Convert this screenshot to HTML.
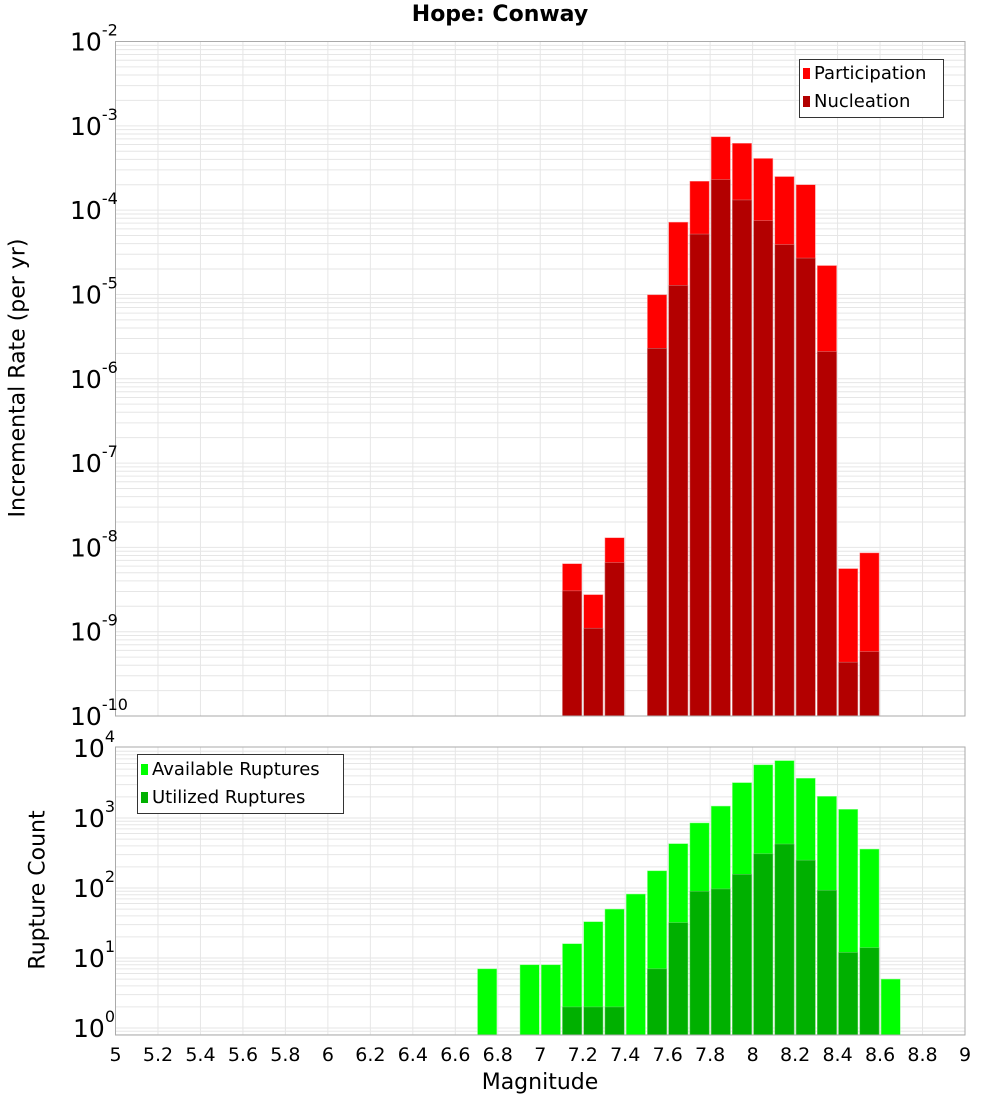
<!DOCTYPE html>
<html><head><meta charset="utf-8"><style>
body{margin:0;background:#fff;}
svg{display:block;font-family:"DejaVu Sans","Liberation Sans",sans-serif;}
</style></head><body>
<svg id="c" width="1000" height="1100" xmlns="http://www.w3.org/2000/svg"></svg>
<script>
const binCenters=[6.75,6.95,7.05,7.15,7.25,7.35,7.45,7.55,7.65,7.75,7.85,7.95,8.05,8.15,8.25,8.35,8.45,8.55,8.65];
const availableCounts=[7,8,8,16,33,50,82,176,430,850,1480,3200,5750,6600,3700,2040,1330,360,5];
const utilizedCounts=[0,0,0,2,2,2,0,7,32,90,97,157,308,425,250,93,12,14,0];
const rateMags=[7.15,7.25,7.35,7.55,7.65,7.75,7.85,7.95,8.05,8.15,8.25,8.35,8.45,8.55];
const participation=[6.4e-9,2.75e-9,1.3e-8,9.9e-6,7.2e-5,2.2e-4,7.4e-4,6.2e-4,4.1e-4,2.5e-4,2.0e-4,2.2e-5,5.6e-9,8.6e-9];
const nucleation=[3.05e-9,1.1e-9,6.6e-9,2.3e-6,1.28e-5,5.2e-5,2.3e-4,1.32e-4,7.5e-5,3.9e-5,2.7e-5,2.1e-6,4.35e-10,5.8e-10];
const xTicks=[5,5.2,5.4,5.6,5.8,6,6.2,6.4,6.6,6.8,7,7.2,7.4,7.6,7.8,8,8.2,8.4,8.6,8.8,9];

const NS="http://www.w3.org/2000/svg";
const svg=document.getElementById('c');
function el(t,a,p){const e=document.createElementNS(NS,t);for(const k in a)e.setAttribute(k,a[k]);(p||svg).appendChild(e);return e;}
const L=115.5,R=965;
const xs=m=>L+(m-5)*(R-L)/4;
const topP={t:41.5,b:716,lo:-10,hi:-2};
const botP={t:747,b:1035,y0:1028,y4:748};
const yTop=v=>topP.b-(Math.log10(v)-topP.lo)*(topP.b-topP.t)/(topP.hi-topP.lo);
const yBot=v=>botP.y0-Math.log10(v)*(botP.y0-botP.y4)/4;

function grid(top,bot,yf,dmin,dmax){
  const g=el('g',{});
  
  
  for(let d=dmin;d<=dmax;d++)for(let k=1;k<10;k++){const v=k*Math.pow(10,d);const y=yf(v);if(y<top-0.5||y>bot+0.5)continue;
    el('line',{x1:L,x2:R,y1:y,y2:y,stroke:'#e6e6e6','stroke-width':1},g);}
  xTicks.forEach(m=>{const x=xs(m);el('line',{x1:x,x2:x,y1:top,y2:bot,stroke:'#e6e6e6','stroke-width':1},g);});
}
grid(topP.t,topP.b,yTop,-10,-3);
grid(botP.t,botP.b,yBot,-1,3);

function bar(cx,v,yf,base,fill,edge,name){
  const x0=xs(cx-0.05)+1,x1=xs(cx+0.05)-1;const y=yf(v);
  const r=el('rect',{x:x0,y:y,width:x1-x0,height:base-y,fill:fill,stroke:edge,'stroke-width':0.5});
  
  
}
rateMags.forEach((m,i)=>{bar(m,participation[i],yTop,topP.b,'#ff0000','#ff9090','participation-bar');});
rateMags.forEach((m,i)=>{bar(m,nucleation[i],yTop,topP.b,'#b30000','#d08080','nucleation-bar');});
binCenters.forEach((m,i)=>{if(availableCounts[i]>0)bar(m,availableCounts[i],yBot,botP.b,'#00ff00','#90ff90','available-bar');});
binCenters.forEach((m,i)=>{if(utilizedCounts[i]>0)bar(m,utilizedCounts[i],yBot,botP.b,'#00b000','#70d070','utilized-bar');});

el('rect',{x:L,y:topP.t,width:R-L,height:topP.b-topP.t,fill:'none',stroke:'#aaa','stroke-width':1});
el('rect',{x:L,y:botP.t,width:R-L,height:botP.b-botP.t,fill:'none',stroke:'#aaa','stroke-width':1});

function ytick(y,exp,name){
  const t=el('text',{x:106,y:y+9,'text-anchor':'end','font-size':25,fill:'#000'});
  
  
  t.appendChild(document.createTextNode('10'));
  const s=document.createElementNS(NS,'tspan');s.setAttribute('dy',-15);s.setAttribute('font-size',16);s.textContent=exp;t.appendChild(s);
  t.setAttribute('text-anchor','start');t.setAttribute('x',exp.length>1?70:73);
}
for(let d=-10;d<=-2;d++)ytick(yTop(Math.pow(10,d)),String(d),'y-tick-label');
for(let d=0;d<=4;d++)ytick(yBot(Math.pow(10,d)),String(d),'y-tick-label');
xTicks.forEach(m=>{const t=el('text',{x:xs(m),y:1061,'text-anchor':'middle','font-size':19,fill:'#000'});t.textContent=String(m);
  
  });
</script>
<div style="position:absolute;left:0;top:0;width:1000px;height:1100px;pointer-events:none;font-family:'DejaVu Sans','Liberation Sans',sans-serif;">
  <div style="position:absolute;left:0;width:1000px;top:2px;text-align:center;font-weight:bold;font-size:22px;">Hope: Conway</div>
  <div style="position:absolute;left:18px;top:378px;transform:translate(-50%,-50%) rotate(-90deg);white-space:nowrap;font-size:22px;">Incremental Rate (per yr)</div>
  <div style="position:absolute;left:38px;top:890px;transform:translate(-50%,-50%) rotate(-90deg);white-space:nowrap;font-size:22px;">Rupture Count</div>
  <div style="position:absolute;left:540px;top:1070px;transform:translateX(-50%);white-space:nowrap;font-size:22px;">Magnitude</div>
  <div style="position:absolute;left:799px;top:59px;width:143px;height:57px;border:1px solid #333;background:#fff;font-size:18px;">
    <div style="position:absolute;left:3px;top:3px;white-space:nowrap;"><span style="display:inline-block;width:7px;height:11px;background:#ff0000;margin-right:4px;"></span>Participation</div>
    <div style="position:absolute;left:3px;top:31px;white-space:nowrap;"><span style="display:inline-block;width:7px;height:11px;background:#b30000;margin-right:4px;"></span>Nucleation</div>
  </div>
  <div style="position:absolute;left:137px;top:754px;width:205px;height:58px;border:1px solid #333;background:#fff;font-size:18px;">
    <div style="position:absolute;left:3px;top:4px;white-space:nowrap;"><span style="display:inline-block;width:7px;height:11px;background:#00ff00;margin-right:4px;"></span>Available Ruptures</div>
    <div style="position:absolute;left:3px;top:32px;white-space:nowrap;"><span style="display:inline-block;width:7px;height:11px;background:#00b000;margin-right:4px;"></span>Utilized Ruptures</div>
  </div>
</div>
</body></html>
